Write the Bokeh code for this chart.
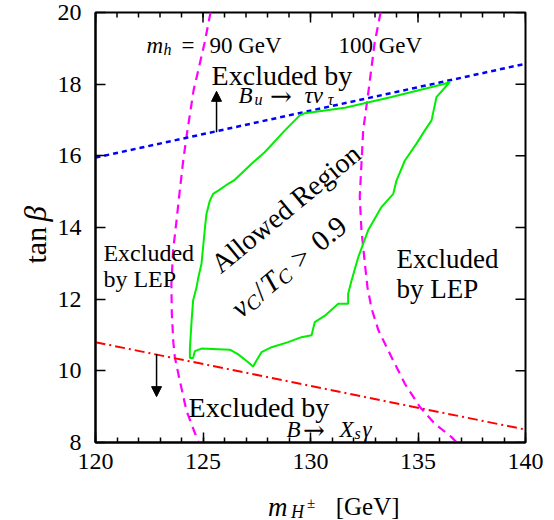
import math
from bokeh.plotting import figure
from bokeh.models import Range1d, FixedTicker, Label, Arrow, NormalHead
from bokeh.layouts import row, column
from bokeh.embed import file_html
from bokeh.resources import INLINE

# ---------------- data ----------------
x_major_ticks = [120, 125, 130, 135, 140]
x_minor_ticks = list(range(120, 141))
y_major_ticks = [8, 10, 12, 14, 16, 18, 20]

# B_u -> tau nu_tau bound (blue, dotted)
btau_x = [120.0, 140.0]
btau_y = [15.95, 18.57]

# B -> X_s gamma bound (red, dash-dot)
bsg_x = [120.0, 140.0]
bsg_y = [10.80, 8.36]

# LEP bound for m_h = 90 GeV (magenta, dashed)
mh90_x = [125.35, 125.07, 124.56, 124.23, 124.08, 123.92, 123.77, 123.61, 123.53,
          123.55, 123.62, 123.69, 123.92, 124.23, 124.60, 124.80]
mh90_y = [20.0, 19.14, 17.82, 16.52, 15.87, 15.03, 14.20, 13.36, 12.43,
          11.60, 10.80, 10.38, 9.73, 8.89, 8.30, 8.0]

# LEP bound for m_h = 100 GeV (magenta, dashed)
mh100_x = [133.26, 132.98, 132.70, 132.45, 132.37, 132.29, 132.37, 132.53, 132.65,
           132.84, 133.16, 133.77, 134.39, 135.09, 135.79, 136.56, 136.80]
mh100_y = [20.0, 19.14, 17.82, 16.71, 15.78, 14.85, 13.92, 12.99, 12.33,
           11.74, 11.13, 10.38, 9.64, 8.99, 8.52, 8.15, 8.0]

# Allowed region v_C/T_C > 0.9 (green contour)
allowed_x = [129.50, 129.74, 131.60, 133.77, 136.25, 136.48,
             135.86, 135.63, 135.32, 134.93, 134.39, 134.00, 133.85, 133.30,
             132.68, 132.22, 131.91, 131.75, 131.75, 131.29, 130.67, 130.20,
             130.05, 129.58, 128.96, 128.19, 127.72, 127.49, 127.33, 127.10,
             126.64, 126.25, 124.93, 124.62, 124.54, 124.39, 124.39, 124.47,
             124.54, 124.70, 124.78, 124.93, 125.08, 125.16, 125.32, 125.47,
             125.71, 126.17, 126.48, 127.26, 127.87, 128.81]
allowed_y = [17.13, 17.19, 17.34, 17.64, 18.01, 18.06,
             17.64, 16.99, 16.71, 16.34, 15.87, 15.31, 14.94, 14.57,
             13.92, 13.17, 12.52, 12.15, 11.87, 11.87, 11.54, 11.36,
             10.99, 10.94, 10.80, 10.66, 10.52, 10.29, 10.12, 10.24,
             10.46, 10.59, 10.62, 10.55, 10.36, 10.36, 10.62, 11.40,
             11.96, 12.33, 12.60, 12.99, 13.92, 14.38, 14.75, 14.94,
             15.03, 15.22, 15.33, 15.78, 16.10, 16.71]

# arrows marking excluded sides
arrow_up = dict(x=125.63, y0=16.66, y1=17.80)
arrow_down = dict(x=122.84, y0=10.46, y1=9.28)

SERIF = "Liberation Serif"
ARROWFONT = "DejaVu Serif"

# ---------------- main figure ----------------
p = figure(frame_width=430, frame_height=430, title=None,
           min_border_left=40, min_border_right=30, min_border_top=12, min_border_bottom=38,
           x_range=Range1d(120, 140), y_range=Range1d(8, 20),
           output_backend="svg", toolbar_location=None,
           background_fill_color="white", border_fill_color="white")
p.xgrid.visible = False
p.ygrid.visible = False
p.outline_line_color = "black"
p.outline_line_width = 2

p.xaxis.ticker = FixedTicker(ticks=x_major_ticks, minor_ticks=x_minor_ticks)
p.yaxis.ticker = FixedTicker(ticks=y_major_ticks, minor_ticks=[])
for ax, standoff in [(p.xaxis[0], 11), (p.yaxis[0], 14)]:
    ax.axis_line_width = 2
    ax.axis_line_color = "black"
    ax.major_tick_in = 10
    ax.major_tick_out = 0
    ax.minor_tick_in = 5
    ax.minor_tick_out = 0
    ax.major_tick_line_width = 1.5
    ax.minor_tick_line_width = 1.5
    ax.major_tick_line_color = "black"
    ax.minor_tick_line_color = "black"
    ax.major_label_text_font = SERIF
    ax.major_label_text_color = "black"
    ax.major_label_text_font_size = "24px"
    ax.major_label_standoff = standoff

# mirrored ticks on the top and right frame edges (half of each dash is clipped away)
p.scatter(x_minor_ticks, [y_major_ticks[-1]] * len(x_minor_ticks), marker="dash",
          angle=math.pi / 2, size=10, line_color="black", line_width=1.5)
p.scatter(x_major_ticks, [y_major_ticks[-1]] * len(x_major_ticks), marker="dash",
          angle=math.pi / 2, size=20, line_color="black", line_width=1.5)
p.scatter([x_major_ticks[-1]] * len(y_major_ticks), y_major_ticks, marker="dash",
          size=20, line_color="black", line_width=1.5)

# ---------------- curves ----------------
p.line(mh90_x, mh90_y, line_color="#ff00ff", line_width=2.2, line_dash="9 6")
p.line(mh100_x, mh100_y, line_color="#ff00ff", line_width=2.2, line_dash="9 6")
p.line(btau_x, btau_y, line_color="#0000ff", line_width=2.5, line_dash="5 4")
p.line(bsg_x, bsg_y, line_color="#ff0000", line_width=2, line_dash="10 4 2 4")
p.line(allowed_x + allowed_x[:1], allowed_y + allowed_y[:1], line_color="#00ee00", line_width=2)

for a in (arrow_up, arrow_down):
    p.add_layout(Arrow(end=NormalHead(size=10, fill_color="black", line_color="black"),
                       x_start=a["x"], y_start=a["y0"], x_end=a["x"], y_end=a["y1"],
                       line_color="black", line_width=1.5))


# ---------------- texts ----------------
def run(fig, text, x, y, size, italic=False, angle=0.0, d=0.0, s=0.0, font=SERIF):
    dx = d * math.cos(angle) + s * math.sin(angle)
    dy = d * math.sin(angle) - s * math.cos(angle)
    fig.add_layout(Label(x=x, y=y, text=text, text_font=font, text_font_size=f"{size}px",
                         text_font_style="italic" if italic else "normal", text_color="black",
                         text_align="left", text_baseline="alphabetic", angle=angle,
                         x_offset=dx, y_offset=dy))


# m_h = 90 GeV , 100 GeV
run(p, "m", 122.37, 19.08, 23, True)
run(p, "h", 122.37, 19.08, 16, True, d=17, s=4)
run(p, "=", 124.00, 19.08, 23)
run(p, "90 GeV", 125.30, 19.08, 23)
run(p, "100 GeV", 131.30, 19.08, 23)

# Excluded by B_u -> tau nu_tau
run(p, "Excluded by", 125.40, 18.24, 28)
run(p, "B", 126.65, 17.68, 23, True)
run(p, "u", 127.40, 17.68, 16, True, s=4)
run(p, "\u2192", 128.12, 17.68, 26, font=ARROWFONT)
run(p, "\u03c4\u03bd", 129.72, 17.68, 23, True)
run(p, "\u03c4", 130.80, 17.68, 16, True, s=4)

# Excluded by LEP (left / right)
run(p, "Excluded", 120.37, 13.30, 24)
run(p, "by LEP", 120.37, 12.55, 24)
run(p, "Excluded", 134.00, 13.13, 27)
run(p, "by LEP", 134.00, 12.27, 27)

# Allowed region
th = math.radians(39.5)
run(p, "Allowed Region", 125.54, 12.89, 28, angle=th)
vx, vy = 126.47, 11.66
run(p, "v", vx, vy, 29, True, th, 0, 0)
run(p, "C", vx, vy, 20, True, th, 13, 5)
run(p, "/", vx, vy, 29, False, th, 28, 0)
run(p, "T", vx, vy, 29, True, th, 38, 0)
run(p, "C", vx, vy, 20, True, th, 54, 5)
run(p, ">", vx, vy, 29, False, th, 77, 0)
run(p, "0.9", vx, vy, 29, False, th, 104, 0)

# Excluded by B -> X_s gamma
run(p, "Excluded by", 124.33, 8.98, 28)
run(p, "B", 128.88, 8.35, 23, True)
run(p, "\u2192", 129.65, 8.35, 26, font=ARROWFONT)
run(p, "X", 131.35, 8.35, 23, True)
run(p, "s", 131.35, 8.35, 16, True, d=15, s=4)
run(p, "\u03b3", 131.35, 8.35, 23, True, d=23)

# ---------------- axis titles (own strips beside the main plot) ----------------
yfig = figure(width=54, height=520, x_range=Range1d(0, 54), y_range=Range1d(0, 520),
              title=None, x_axis_type=None, y_axis_type=None, min_border=0,
              toolbar_location=None, output_backend="svg", outline_line_color=None)
yfig.grid.visible = False
run(yfig, "tan", 35, 257, 30, False, math.pi / 2)
run(yfig, "\u03b2", 35, 257, 31, True, math.pi / 2, 42, 0)

xfig = figure(width=500, height=40, x_range=Range1d(54, 554), y_range=Range1d(0, 40),
              title=None, x_axis_type=None, y_axis_type=None, min_border=0,
              toolbar_location=None, output_backend="svg", outline_line_color=None)
xfig.grid.visible = False
run(xfig, "m", 255, 14, 27, True)
run(xfig, "H", 255, 14, 18, True, d=23, s=5)
run(xfig, "\u00b1", 255, 14, 15, False, d=39, s=-4)
run(xfig, "[GeV]", 334, 14, 25)

layout = row(yfig, column(p, xfig, spacing=0), spacing=0)
open("out.html", "w").write(file_html(layout, INLINE))
